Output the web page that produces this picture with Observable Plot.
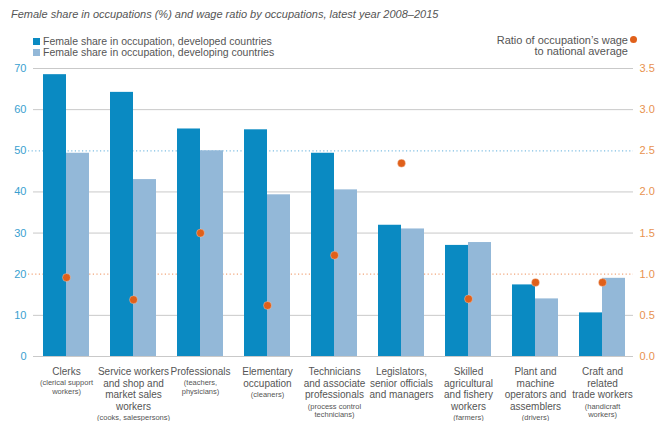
<!DOCTYPE html>
<html>
<head>
<meta charset="utf-8">
<script src="https://cdn.jsdelivr.net/npm/d3@7"></script>
<script src="https://cdn.jsdelivr.net/npm/@observablehq/plot@0.6"></script>
<style>
  html, body { margin: 0; padding: 0; background: #fff; }
  body { width: 657px; height: 421px; overflow: hidden; font-family: "Liberation Sans", Arial, sans-serif; position: relative; }
  #title { position: absolute; left: 11px; top: 8px; font-size: 11px; font-style: italic; color: #555; white-space: nowrap; }
  .leg { position: absolute; font-size: 10.5px; color: #555; white-space: nowrap; line-height: 11px; }
  .sw { display: inline-block; width: 7px; height: 7px; margin-right: 3px; vertical-align: 0px; }
  #legR { right: 29px; text-align: right; top: 35px; font-size: 11px; }
  #dotR { position: absolute; left: 630px; top: 36px; width: 7px; height: 7px; border-radius: 50%; background: #e0601a; }
  #chart { position: absolute; left: 0; top: 60px; }
</style>
</head>
<body>
<div id="title"></div>
<div class="leg" id="legL" style="left:33px; top:36px;"></div>
<div class="leg" id="legR"></div>
<div id="dotR"></div>
<div id="chart"></div>
<script>
// ---- data ----
const occupations = ["Clerks", "Service workers", "Professionals", "Elementary", "Technicians", "Legislators", "Skilled", "Plant", "Craft"];
const labelMain = [
  ["Clerks"],
  ["Service workers", "and shop and", "market sales", "workers"],
  ["Professionals"],
  ["Elementary", "occupation"],
  ["Technicians", "and associate", "professionals"],
  ["Legislators,", "senior officials", "and managers"],
  ["Skilled", "agricultural", "and fishery", "workers"],
  ["Plant and", "machine", "operators and", "assemblers"],
  ["Craft and", "related", "trade workers"]
];
const labelSub = [
  ["(clerical support", "workers)"],
  ["(cooks, salespersons)"],
  ["(teachers,", "physicians)"],
  ["(cleaners)"],
  ["(process control", "technicians)"],
  [],
  ["(farmers)"],
  ["(drivers)"],
  ["(handicraft", "workers)"]
];
const developed = [68.5, 64.2, 55.3, 55.1, 49.4, 31.9, 27.0, 17.4, 10.6];
const developing = [49.4, 43.0, 50.0, 39.3, 40.5, 31.0, 27.7, 14.0, 19.0];
const wageRatio = [0.96, 0.69, 1.50, 0.62, 1.23, 2.35, 0.70, 0.90, 0.90];
const shareTicks = [0, 10, 20, 30, 40, 50, 60, 70];
const ratioTicks = [0.0, 0.5, 1.0, 1.5, 2.0, 2.5, 3.0, 3.5];
const titleText = "Female share in occupations (%) and wage ratio by occupations, latest year 2008–2015";
const seriesNames = ["Female share in occupation, developed countries", "Female share in occupation, developing countries"];
const ratioLegend = ["Ratio of occupation’s wage", "to national average"];

// ---- styles ----
const cDev = "#0a8ac2", cDevg = "#93b8d8", cDot = "#e0601a";
const cBlue = "#3a9fd0", cOrange = "#e8924f";
const ratioScale = 20; // 1.0 ratio == 20 on the share axis (3.5 == 70)

document.getElementById("title").textContent = titleText;
document.getElementById("legL").innerHTML =
  `<div><span class="sw" style="background:${cDev}"></span>${seriesNames[0]}</div>` +
  `<div><span class="sw" style="background:${cDevg}"></span>${seriesNames[1]}</div>`;
document.getElementById("legR").innerHTML = ratioLegend.map(s => `<div>${s}</div>`).join("");

const rows = occupations.map((o, i) => ({
  occ: o, dev: developed[i], devg: developing[i], ratio: wageRatio[i],
  main: labelMain[i].join("\n"), nMain: labelMain[i].length, sub: labelSub[i].join("\n")
}));

const grid = shareTicks.filter(t => t !== 50 && t !== 20);

// sub-label marks grouped by number of main lines
const subMarks = [...new Set(rows.map(r => r.nMain))].map(n =>
  Plot.text(rows.filter(r => r.nMain === n && r.sub), {
    x: "occ", text: "sub", frameAnchor: "bottom", lineAnchor: "top",
    dy: 22.5 + 11.7 * (n - 1), fontSize: 7.5, lineHeight: 1.15, fill: "#555"
  })
);

const chart = Plot.plot({
  width: 657,
  height: 361,
  marginTop: 8,
  marginBottom: 65,
  marginLeft: 31,
  marginRight: 20,
  style: { fontFamily: "Liberation Sans, Arial, sans-serif", background: "#fff", overflow: "visible" },
  x: { domain: occupations, paddingInner: 0.316, paddingOuter: 0.158, axis: null },
  y: { domain: [0, 70], axis: null },
  marks: [
    Plot.ruleY(grid, { stroke: "#c9c9c9", strokeWidth: 1, insetLeft: 2, insetRight: 4 }),
    Plot.ruleY([50], { stroke: "#7fbfe3", strokeWidth: 1.2, strokeDasharray: "1.2,2.4", insetLeft: -3, insetRight: 4 }),
    Plot.ruleY([1.0 * ratioScale], { stroke: "#f2a57a", strokeWidth: 1.2, strokeDasharray: "1.2,2.4", insetLeft: -3, insetRight: 4 }),
    Plot.barY(rows, { x: "occ", y: "dev", fill: cDev, insetRight: 23 }),
    Plot.barY(rows, { x: "occ", y: "devg", fill: cDevg, insetLeft: 23 }),
    Plot.dot(rows, { x: "occ", y: d => d.ratio * ratioScale, r: 4, fill: cDot, stroke: "#fff", strokeOpacity: 0.5, strokeWidth: 0.6 }),
    Plot.axisY(shareTicks, { anchor: "left", tickSize: 0, tickPadding: 5, fontSize: 11, color: cBlue, label: null }),
    Plot.axisY(ratioTicks.map(t => t * ratioScale), { anchor: "right", tickSize: 0, tickPadding: 2, fontSize: 11, color: cOrange, label: null,
      tickFormat: d => (d / ratioScale).toFixed(1) }),
    Plot.text(rows, { x: "occ", text: "main", frameAnchor: "bottom", lineAnchor: "top", dy: 10, fontSize: 10, lineHeight: 1.17, fill: "#555" }),
    ...subMarks
  ]
});
document.getElementById("chart").append(chart);
</script>
</body>
</html>
